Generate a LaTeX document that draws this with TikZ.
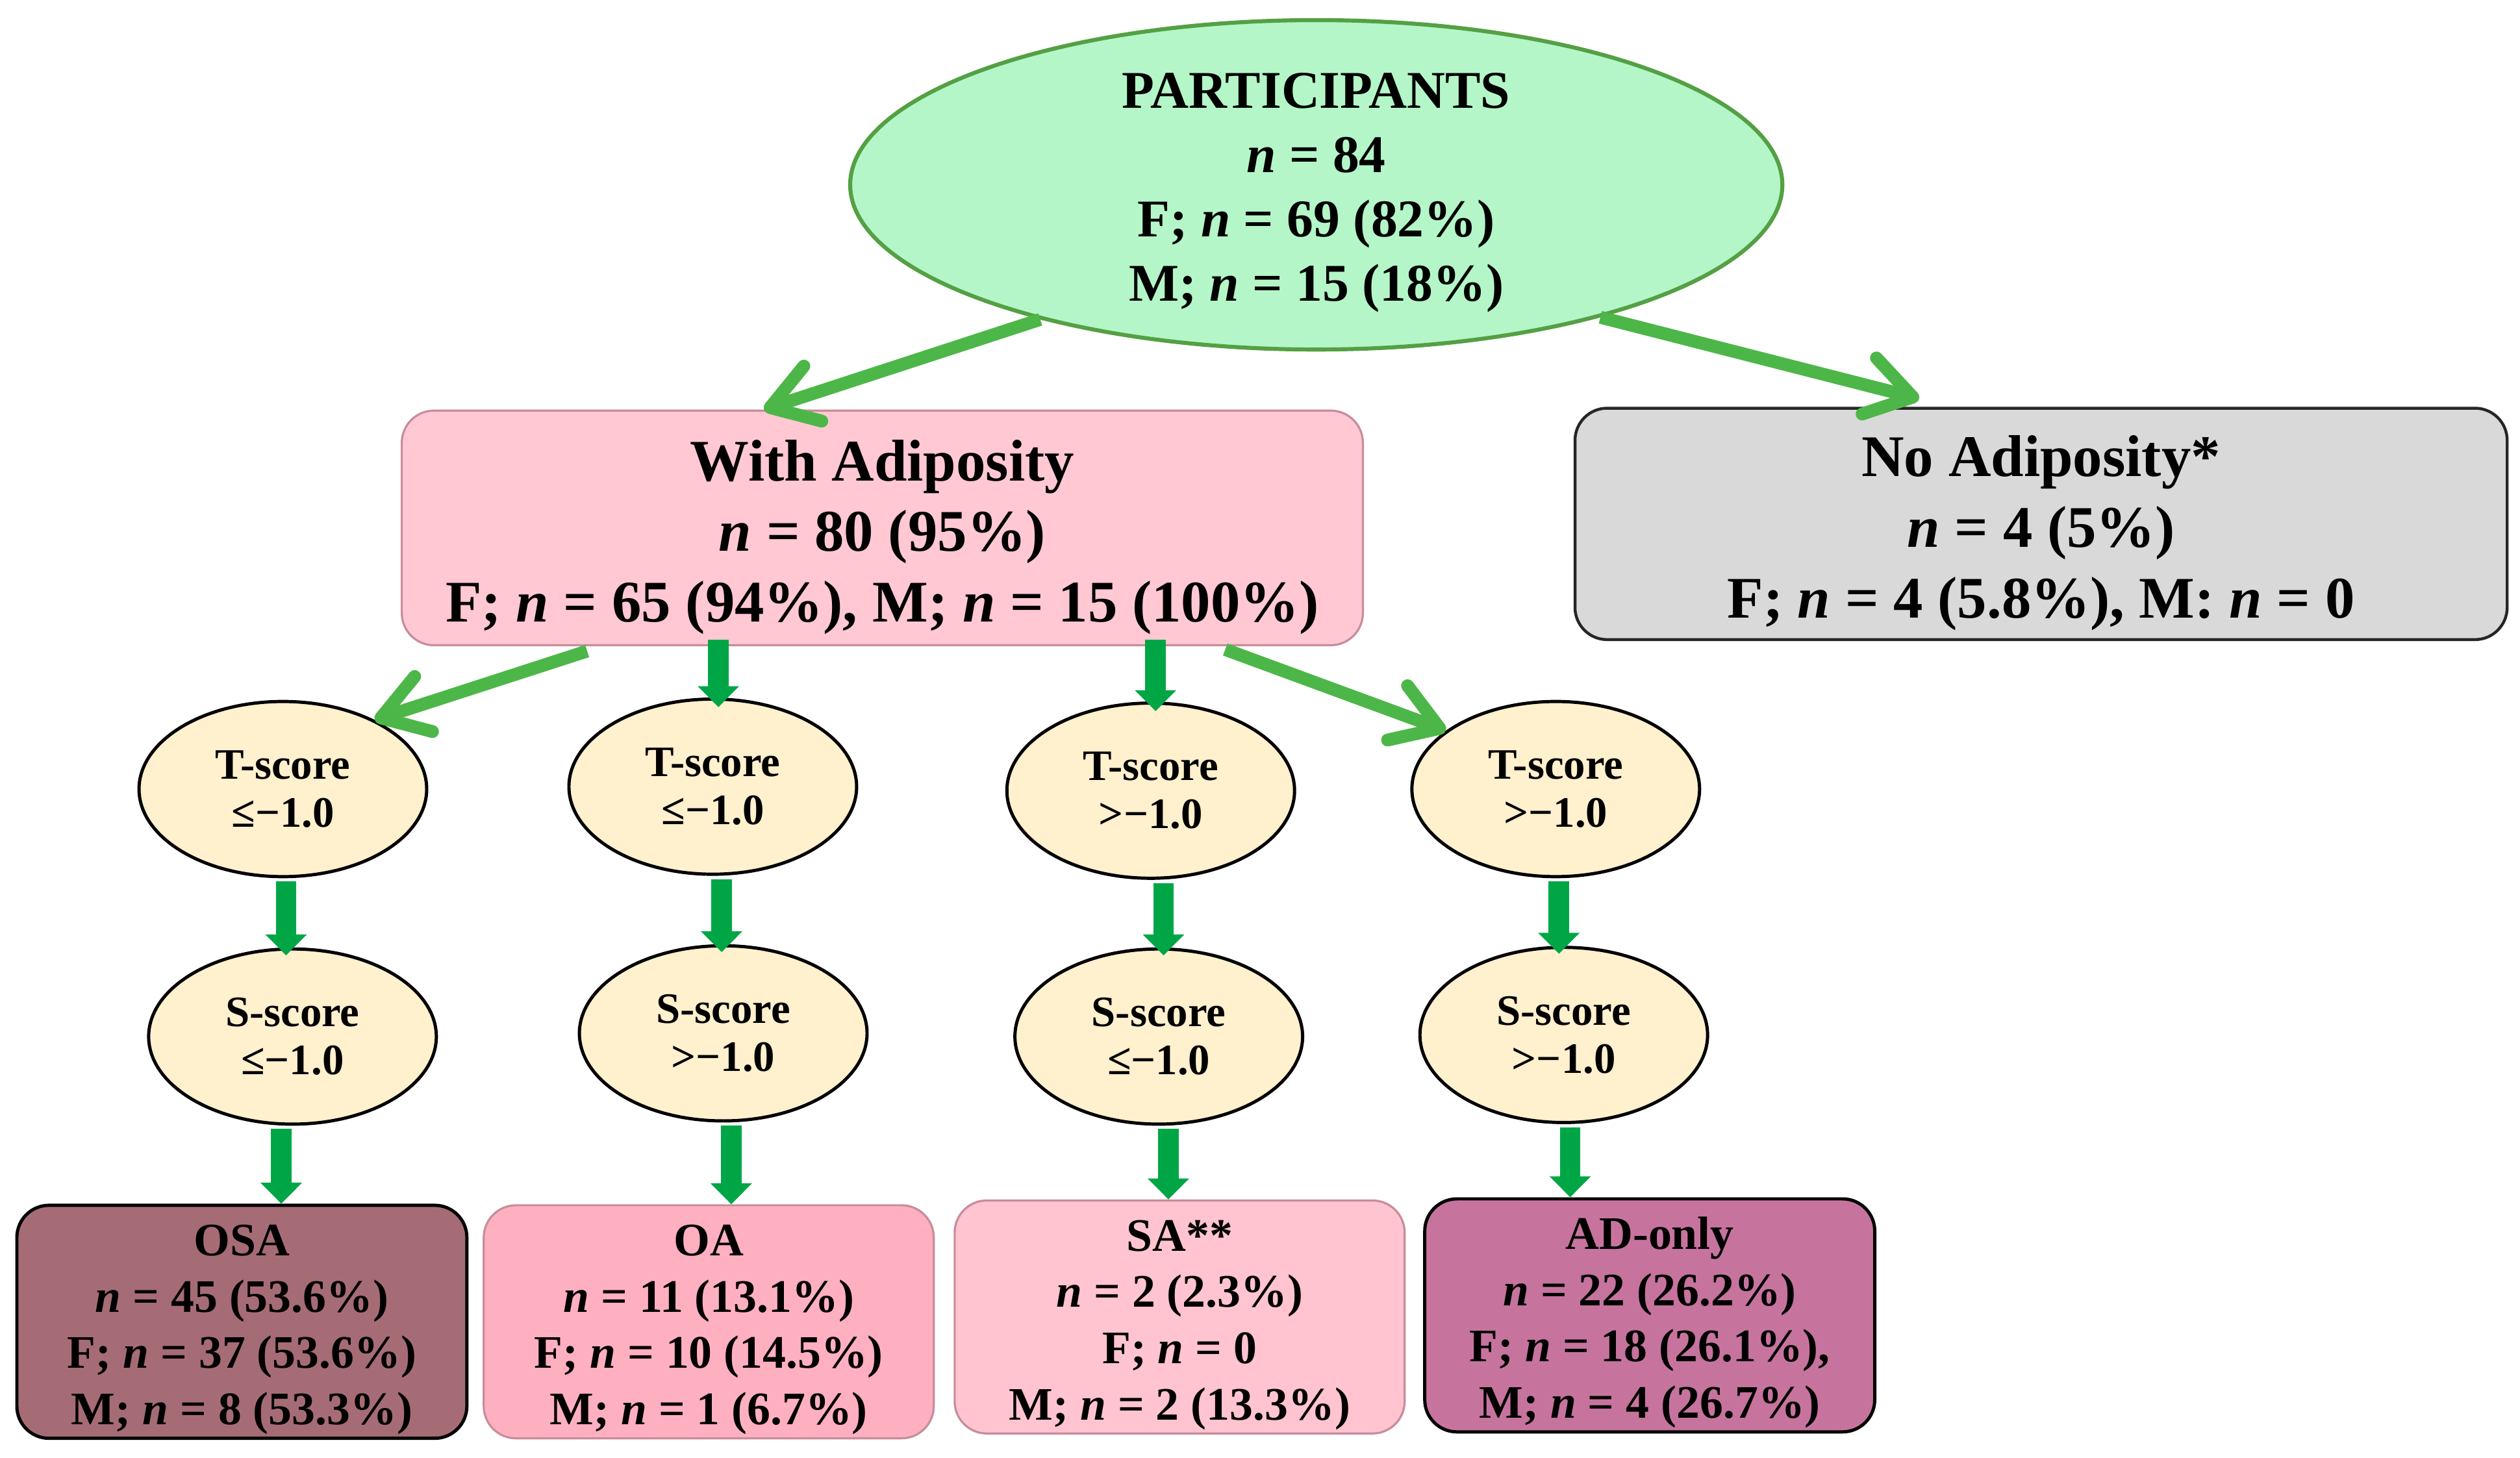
\documentclass[tikz,border=0pt]{standalone}
\usepackage{fontspec}
\setmainfont{Liberation Serif}
\usetikzlibrary{arrows.meta,shapes.geometric}
\definecolor{partfill}{RGB}{180,246,200}
\definecolor{partline}{RGB}{84,160,68}
\definecolor{adipfill}{RGB}{255,200,211}
\definecolor{adipline}{RGB}{200,140,155}
\definecolor{noadipfill}{RGB}{217,217,217}
\definecolor{scorefill}{RGB}{255,240,206}
\definecolor{osafill}{RGB}{166,108,118}
\definecolor{oafill}{RGB}{255,176,192}
\definecolor{safill}{RGB}{255,196,208}
\definecolor{adfill}{RGB}{198,116,158}
\definecolor{barbgreen}{RGB}{76,183,72}
\definecolor{vertgreen}{RGB}{0,166,70}
\def\ncount{\textit{n}}
\def\lift#1{\rule{0pt}{#1}}  % first-line strut, pushes the text down
\begin{document}
\begin{tikzpicture}[x=1pt, y=-1pt, line join=round,
	part/.style={ellipse, draw=partline, line width=2.5pt, fill=partfill, minimum width=580pt, minimum height=205pt, inner xsep=0pt, inner ysep=-14pt, align=center, font=\fontsize{33}{40}\selectfont\bfseries},
	bigbox/.style={rectangle, rounded corners=20pt, minimum height=146pt, inner sep=0pt, align=center, font=\fontsize{36.7}{44}\selectfont\bfseries},
	score/.style={ellipse, draw=black, line width=2pt, fill=scorefill, minimum width=179pt, minimum height=109pt, inner sep=0pt, align=center, font=\fontsize{27}{30}\selectfont\bfseries},
	group/.style={rectangle, rounded corners=20pt, minimum width=280pt, minimum height=145pt, inner sep=0pt, align=center, font=\fontsize{29}{35}\selectfont\bfseries},
	barb/.style={draw=barbgreen, line width=8pt, -{Straight Barb[length=28pt,width=36pt,round]}},
	vert/.style={draw=vertgreen, line width=12.8pt, shorten <=2pt, -{Triangle[length=13pt,width=25pt]}}]
	\useasboundingbox (0,0) rectangle (1568,907);
	% top
	\node[part] (part) at (819,115) {\lift{32pt}PARTICIPANTS\\ \ncount{} = 84\\ F; \ncount{} = 69 (82\%)\\ M; \ncount{} = 15 (18\%)};
	\node[bigbox, draw=adipline, line width=1.3pt, fill=adipfill, minimum width=598pt] (adip) at (549,328.5) {\lift{37pt}With Adiposity\\ \ncount{} = 80 (95\%)\\ F; \ncount{} = 65 (94\%), M; \ncount{} = 15 (100\%)};
	\node[bigbox, draw=black!85, line width=1.8pt, fill=noadipfill, minimum width=580pt, minimum height=144pt] (noadip) at (1270,326) {\lift{37pt}No Adiposity*\\ \ncount{} = 4 (5\%)\\ F; \ncount{} = 4 (5.8\%), M: \ncount{} = 0};
	% scores
	\node[score] (T1) at (176,491) {T-score\\ ≤−1.0};
	\node[score] (T2) at (443.5,489.5) {T-score\\ ≤−1.0};
	\node[score] (T3) at (716,492) {T-score\\ >−1.0};
	\node[score] (T4) at (968,491) {T-score\\ >−1.0};
	\node[score] (S1) at (182,645) {S-score\\ ≤−1.0};
	\node[score] (S2) at (450,643) {S-score\\ >−1.0};
	\node[score] (S3) at (721,645) {S-score\\ ≤−1.0};
	\node[score] (S4) at (973,644) {S-score\\ >−1.0};
	% groups
	\node[group, draw=black, line width=2pt, fill=osafill] (OSA) at (150.5,822.5) {\lift{29pt}OSA\\ \ncount{} = 45 (53.6\%)\\ F; \ncount{} = 37 (53.6\%)\\ M; \ncount{} = 8 (53.3\%)};
	\node[group, draw=adipline, line width=1.3pt, fill=oafill] (OA) at (441,822.5) {\lift{29pt}OA\\ \ncount{} = 11 (13.1\%)\\ F; \ncount{} = 10 (14.5\%)\\ M; \ncount{} = 1 (6.7\%)};
	\node[group, draw=adipline, line width=1.3pt, fill=safill] (SA) at (734,819.5) {\lift{29pt}SA**\\ \ncount{} = 2 (2.3\%)\\ F; \ncount{} = 0\\ M; \ncount{} = 2 (13.3\%)};
	\node[group, draw=black, line width=2pt, fill=adfill] (AD) at (1026.5,818.5) {\lift{29pt}AD-only\\ \ncount{} = 22 (26.2\%)\\ F; \ncount{} = 18 (26.1\%),\\ M; \ncount{} = 4 (26.7\%)};
	% arrows
	\draw[barb] (part.206) -- ([xshift=226pt]adip.north west);
	\draw[barb] (part.335) -- ([xshift=215pt,yshift=5pt]noadip.north west);
	\draw[barb] ([xshift=116pt,yshift=-3pt]adip.south west) -- (T1.37);
	\draw[barb] ([xshift=513pt,yshift=-2pt]adip.south west) -- (T4.152);
	\draw[vert, shorten <=-4pt, shorten >=-6pt] ([xshift=3.5pt]T2.north |- adip.south) -- ([xshift=3.5pt]T2.north);
	\draw[vert, shorten <=-4pt, shorten >=-6pt] ([xshift=3pt]T3.north |- adip.south) -- ([xshift=3pt]T3.north);
	\foreach \i/\b/\u/\d in {1/OSA/-4/-7,2/OA/-1/5,3/SA/3/6,4/AD/-3/4}{
		\draw[vert, shorten >=-5pt] ([xshift=\u pt]S\i.north |- T\i.south) -- ([xshift=\u pt]S\i.north);
		\draw[vert] ([xshift=\d pt]S\i.south) -- ([xshift=\d pt]S\i.south |- \b.north);
	}
\end{tikzpicture}
\end{document}
